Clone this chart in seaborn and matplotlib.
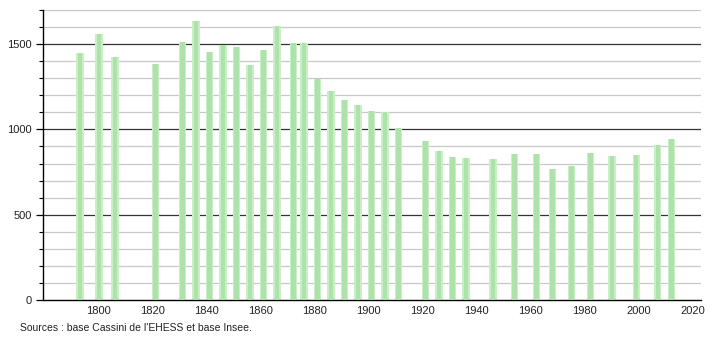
import matplotlib
matplotlib.use("Agg")
import matplotlib.pyplot as plt
import seaborn as sns
import pandas as pd
from matplotlib.ticker import MultipleLocator

years = [1793, 1800, 1806, 1821, 1831, 1836, 1841, 1846, 1851, 1856, 1861, 1866,
         1872, 1876, 1881, 1886, 1891, 1896, 1901, 1906, 1911, 1921, 1926, 1931,
         1936, 1946, 1954, 1962, 1968, 1975, 1982, 1990, 1999, 2007, 2012]
population = [1447, 1559, 1425, 1386, 1512, 1637, 1453, 1494, 1484, 1378, 1463, 1606,
              1508, 1506, 1298, 1225, 1173, 1145, 1110, 1100, 1008, 935, 873, 837,
              831, 829, 855, 853, 767, 784, 861, 843, 849, 906, 943]
x_ticks = list(range(1800, 2021, 20))
y_ticks = [0, 500, 1000, 1500]
source = "Sources : base Cassini de l'EHESS et base Insee."

df = pd.DataFrame({"year": years, "pop": population})

sns.set_style("white")
plt.rcParams["font.family"] = ["Liberation Sans", "DejaVu Sans"]
plt.rcParams["text.color"] = "#222222"
plt.rcParams["xtick.color"] = "#222222"
plt.rcParams["ytick.color"] = "#222222"

fig = plt.figure(figsize=(7.1, 3.4), dpi=100)
ax = fig.add_axes([43 / 710, 1 - 300 / 340, (701 - 43) / 710, 290 / 340])

# gridlines
for v in range(100, 1701, 100):
    if v % 500 == 0:
        ax.axhline(v, color="#333333", lw=0.9, zorder=0)
    else:
        ax.axhline(v, color="#c8c8c8", lw=0.9, zorder=0)

sns.barplot(data=df, x="year", y="pop", native_scale=True, width=0.68,
            color="#c9efc6", saturation=1, ax=ax, zorder=2, errorbar=None,
            linewidth=0, edgecolor="none")
sns.barplot(data=df, x="year", y="pop", native_scale=True, width=0.42,
            color="#ade3aa", saturation=1, ax=ax, zorder=3, errorbar=None,
            linewidth=0, edgecolor="none")

ax.set_xlim(1779.3, 2023)
ax.set_ylim(0, 1700)
ax.set_xticks(x_ticks)
ax.set_xticklabels([str(t) for t in x_ticks])
ax.set_yticks(y_ticks)
ax.yaxis.set_minor_locator(MultipleLocator(100))
ax.set_xlabel("")
ax.set_ylabel("")

for s in ["top", "right"]:
    ax.spines[s].set_visible(False)
for s in ["left", "bottom"]:
    ax.spines[s].set_color("black")
    ax.spines[s].set_linewidth(1.0)

ax.tick_params(axis="y", which="major", length=5, width=0.9, color="black",
               labelsize=8, pad=3, direction="out", left=True)
ax.tick_params(axis="y", which="minor", length=3, width=0.8, color="black",
               direction="out", left=True)
ax.tick_params(axis="x", length=0, labelsize=8, pad=4)

fig.text(20 / 710, 1 - 328 / 340, source, fontsize=7.5, va="center", ha="left")

fig.savefig("out.png", dpi=100)
